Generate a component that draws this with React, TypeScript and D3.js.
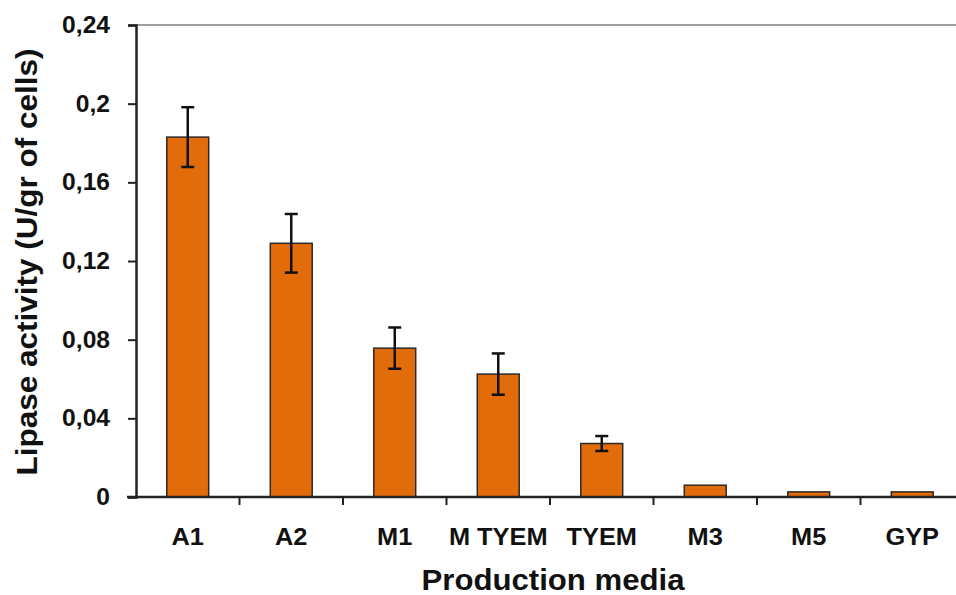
import React, { useEffect, useRef } from "react";
import * as d3 from "d3";

// datos
const categories = ["A1", "A2", "M1", "M TYEM", "TYEM", "M3", "M5", "GYP"];
const activity = [0.183, 0.129, 0.0757, 0.0625, 0.0272, 0.006, 0.0026, 0.0026];
const errors = [0.0152, 0.0149, 0.0105, 0.0105, 0.0038, 0, 0, 0];
const yTicks = [0, 0.04, 0.08, 0.12, 0.16, 0.2, 0.24];

// estira el texto en horizontal como en la imagen original
const stretch = (sel, k) => {
  sel.each(function () {
    const w = this.getComputedTextLength();
    d3.select(this).attr("textLength", w * k).attr("lengthAdjust", "spacingAndGlyphs");
  });
};

const App = () => {
  const ref = useRef<SVGSVGElement>(null);

  useEffect(() => {
    const svg = d3.select(ref.current);
    svg.selectAll("*").remove();

    const width = 956;
    const left = 136;
    const top = 25;
    const bottom = 497;
    const right = left + 103.5 * 8;
    const font = "'Liberation Sans', Arial, sans-serif";

    const x = d3.scaleBand().domain(categories).range([left, right]).paddingInner(0.595).paddingOuter(0.2975);
    const y = d3.scaleLinear().domain([0, 0.24]).range([bottom, top]);

    // linea superior gris
    svg
      .append("line")
      .attr("x1", left)
      .attr("x2", width)
      .attr("y1", y(0.24))
      .attr("y2", y(0.24))
      .attr("stroke", "#a0a0a0")
      .attr("stroke-width", 2);

    // barras
    svg
      .selectAll("rect.bar")
      .data(activity)
      .enter()
      .append("rect")
      .attr("class", "bar")
      .attr("x", (d, i) => x(categories[i]))
      .attr("y", (d) => y(d))
      .attr("width", x.bandwidth())
      .attr("height", (d) => bottom - y(d))
      .attr("fill", "#e36c0a")
      .attr("stroke", "#2a2a2a")
      .attr("stroke-width", 1.5);

    // barras de error
    const eb = svg
      .selectAll("g.err")
      .data(activity.map((v, i) => ({ v, e: errors[i], c: categories[i] })).filter((d) => d.e > 0))
      .enter()
      .append("g")
      .attr("class", "err")
      .attr("stroke", "#111")
      .attr("stroke-width", 2.5);
    const cx = (d) => x(d.c) + x.bandwidth() / 2;
    eb.append("line")
      .attr("x1", cx)
      .attr("x2", cx)
      .attr("y1", (d) => y(d.v + d.e))
      .attr("y2", (d) => y(d.v - d.e));
    eb.append("line")
      .attr("x1", (d) => cx(d) - 6.5)
      .attr("x2", (d) => cx(d) + 6.5)
      .attr("y1", (d) => y(d.v + d.e))
      .attr("y2", (d) => y(d.v + d.e));
    eb.append("line")
      .attr("x1", (d) => cx(d) - 6.5)
      .attr("x2", (d) => cx(d) + 6.5)
      .attr("y1", (d) => y(d.v - d.e))
      .attr("y2", (d) => y(d.v - d.e));

    // eje Y
    const yAxis = svg
      .append("g")
      .attr("transform", `translate(${left},0)`)
      .call(
        d3
          .axisLeft(y)
          .tickValues(yTicks)
          .tickSize(8)
          .tickPadding(18)
          .tickFormat((d) => String(d).replace(".", ","))
      );
    yAxis.select(".domain").attr("stroke", "#222").attr("stroke-width", 2.5);
    yAxis.selectAll(".tick line").attr("stroke", "#222").attr("stroke-width", 2);
    yAxis
      .selectAll(".tick text")
      .attr("font-family", font)
      .attr("font-weight", "bold")
      .attr("font-size", 23)
      .attr("fill", "#111")
      .call(stretch, 1.07);

    // eje X
    svg
      .append("line")
      .attr("x1", left - 9)
      .attr("x2", width)
      .attr("y1", bottom)
      .attr("y2", bottom)
      .attr("stroke", "#222")
      .attr("stroke-width", 2.5);
    svg
      .selectAll("line.xtick")
      .data(categories.slice(1))
      .enter()
      .append("line")
      .attr("class", "xtick")
      .attr("x1", (d) => x(d) - x.step() * 0.2975)
      .attr("x2", (d) => x(d) - x.step() * 0.2975)
      .attr("y1", bottom)
      .attr("y2", bottom + 8)
      .attr("stroke", "#222")
      .attr("stroke-width", 2);
    svg
      .selectAll("text.xlab")
      .data(categories)
      .enter()
      .append("text")
      .attr("class", "xlab")
      .attr("x", (d) => x(d) + x.bandwidth() / 2)
      .attr("y", 545)
      .attr("text-anchor", "middle")
      .attr("font-family", font)
      .attr("font-weight", "bold")
      .attr("font-size", 23.5)
      .attr("fill", "#111")
      .text((d) => d)
      .call(stretch, 1.08);

    // titulos
    svg
      .append("text")
      .attr("x", 553)
      .attr("y", 590)
      .attr("text-anchor", "middle")
      .attr("font-family", font)
      .attr("font-weight", "bold")
      .attr("font-size", 29)
      .attr("fill", "#111")
      .attr("textLength", 263)
      .attr("lengthAdjust", "spacingAndGlyphs")
      .text("Production media");
    svg
      .append("text")
      .attr("transform", `translate(37,262) rotate(-90)`)
      .attr("text-anchor", "middle")
      .attr("font-family", font)
      .attr("font-weight", "bold")
      .attr("font-size", 29)
      .attr("fill", "#111")
      .attr("textLength", 427)
      .attr("lengthAdjust", "spacingAndGlyphs")
      .text("Lipase activity (U/gr of cells)");
  }, []);

  return (
    <svg
      ref={ref}
      width={956}
      height={595}
      style={{ position: "absolute", left: 0, top: 0, background: "#fff" }}
    />
  );
};

export default App;
